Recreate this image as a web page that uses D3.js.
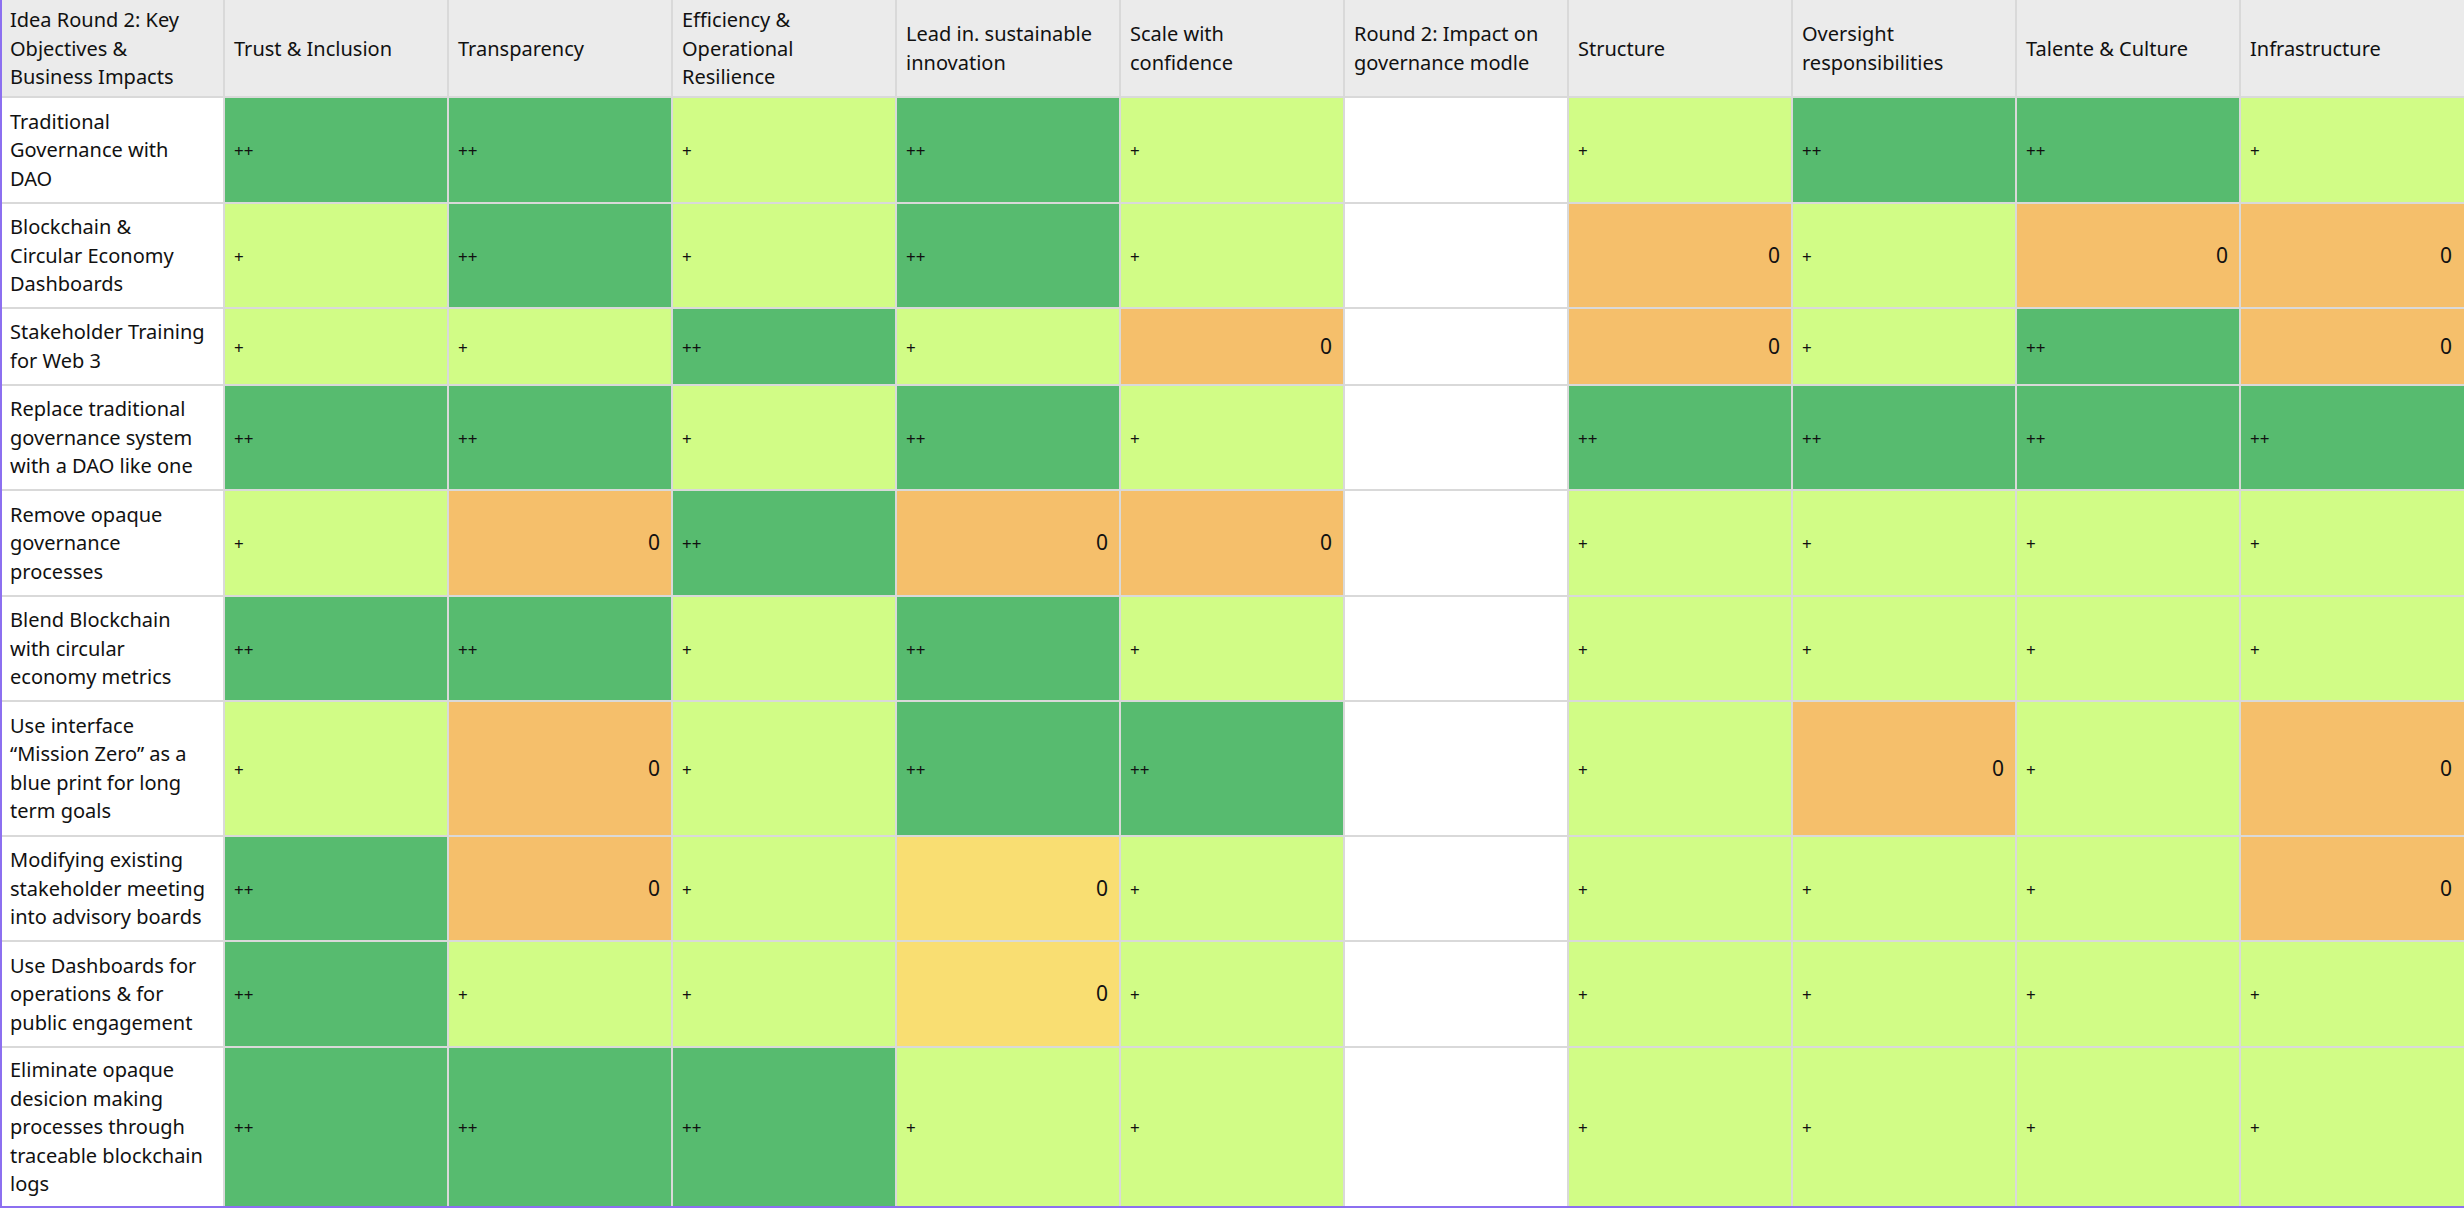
<!DOCTYPE html>
<meta charset="utf-8">
<script src="https://d3js.org/d3.v7.min.js"></script>
<style>body{margin:0;background:#fff}</style>
<div id="my_dataviz"></div>
<script>
    var headers = [
        ["Idea Round 2: Key", "Objectives &", "Business Impacts"],
        ["Trust & Inclusion"], ["Transparency"], ["Efficiency &", "Operational", "Resilience"],
        ["Lead in. sustainable", "innovation"], ["Scale with", "confidence"],
        ["Round 2: Impact on", "governance modle"], ["Structure"], ["Oversight", "responsibilities"],
        ["Talente & Culture"], ["Infrastructure"]
    ];
    var ideas = [
        ["Traditional", "Governance with", "DAO"],
        ["Blockchain &", "Circular Economy", "Dashboards"],
        ["Stakeholder Training", "for Web 3"],
        ["Replace traditional", "governance system", "with a DAO like one"],
        ["Remove opaque", "governance", "processes"],
        ["Blend Blockchain", "with circular", "economy metrics"],
        ["Use interface", "\u201cMission Zero\u201d as a", "blue print for long", "term goals"],
        ["Modifying existing", "stakeholder meeting", "into advisory boards"],
        ["Use Dashboards for", "operations & for", "public engagement"],
        ["Eliminate opaque", "desicion making", "processes through", "traceable blockchain", "logs"]
    ];
    // "" = blank column, "0y" = zero shown in yellow
    var ratings = [
        ["++", "++", "+", "++", "+", "", "+", "++", "++", "+"],
        ["+", "++", "+", "++", "+", "", "0", "+", "0", "0"],
        ["+", "+", "++", "+", "0", "", "0", "+", "++", "0"],
        ["++", "++", "+", "++", "+", "", "++", "++", "++", "++"],
        ["+", "0", "++", "0", "0", "", "+", "+", "+", "+"],
        ["++", "++", "+", "++", "+", "", "+", "+", "+", "+"],
        ["+", "0", "+", "++", "++", "", "+", "0", "+", "0"],
        ["++", "0", "+", "0y", "+", "", "+", "+", "+", "0"],
        ["++", "+", "+", "0y", "+", "", "+", "+", "+", "+"],
        ["++", "++", "++", "+", "+", "", "+", "+", "+", "+"]
    ];
    var rowHeights = [97, 106, 105, 77, 105, 106, 105, 135, 105, 106, 160];

    var width = 2464, height = 1208;
    var colors = {"++": "#57bb6f", "+": "#d1fc86", "0": "#f5bf6b", "0y": "#f9de72", "": "#ffffff"};

    var svg = d3.select("#my_dataviz").append("svg")
        .attr("width", width).attr("height", height)
        .style("font-family", "'Noto Sans', sans-serif");

    var x = d3.scaleBand().domain(d3.range(headers.length)).range([0, width]);
    var tops = [0];
    rowHeights.forEach(function(h, i) { tops.push(tops[i] + h); });
    var y = function(i) { return tops[i]; };

    // header
    svg.selectAll(".hd").data(headers).enter().append("rect")
        .attr("x", function(d, i) { return x(i); }).attr("y", 0)
        .attr("width", x.bandwidth()).attr("height", rowHeights[0])
        .attr("fill", "#ebebeb");

    // first column
    svg.selectAll(".ic").data(ideas).enter().append("rect")
        .attr("x", 0).attr("y", function(d, i) { return y(i + 1); })
        .attr("width", x.bandwidth()).attr("height", function(d, i) { return rowHeights[i + 1]; })
        .attr("fill", "#ffffff");

    // cells
    var cells = [];
    ratings.forEach(function(r, ri) { r.forEach(function(v, ci) { cells.push({r: ri, c: ci + 1, v: v}); }); });
    var g = svg.selectAll(".cell").data(cells).enter().append("g");
    g.append("rect")
        .attr("x", function(d) { return x(d.c); }).attr("y", function(d) { return y(d.r + 1); })
        .attr("width", x.bandwidth()).attr("height", function(d) { return rowHeights[d.r + 1]; })
        .attr("fill", function(d) { return colors[d.v]; });
    g.append("text")
        .attr("x", function(d) { return d.v[0] === "0" ? x(d.c) + x.bandwidth() - 12 : x(d.c) + 10; })
        .attr("y", function(d) { return y(d.r + 1) + rowHeights[d.r + 1] / 2 + 7; })
        .attr("text-anchor", function(d) { return d.v[0] === "0" ? "end" : "start"; })
        .style("font-size", function(d) { return d.v[0] === "0" ? "21px" : "17px"; })
        .attr("fill", "#111")
        .text(function(d) { return d.v === "0y" ? "0" : d.v; });

    function multi(sel, lines, x0, yc) {
        var lh = 28.5, n = lines.length;
        var t = sel.append("text").attr("fill", "#111").style("font-size", "20px");
        lines.forEach(function(l, k) {
            t.append("tspan").attr("x", x0).attr("y", yc - (n - 1) * lh / 2 + k * lh + 7).text(l);
        });
    }
    headers.forEach(function(h, i) { multi(svg, h, x(i) + 10, rowHeights[0] / 2); });
    ideas.forEach(function(h, i) { multi(svg, h, 10, y(i + 1) + rowHeights[i + 1] / 2); });

    // grid lines
    svg.selectAll(".vl").data(d3.range(1, headers.length)).enter().append("line")
        .attr("x1", function(d) { return x(d); }).attr("x2", function(d) { return x(d); })
        .attr("y1", 0).attr("y2", height).attr("stroke", "#d9d9d9").attr("stroke-width", 2);
    svg.selectAll(".hl").data(d3.range(1, tops.length - 1)).enter().append("line")
        .attr("x1", 0).attr("x2", width).attr("y1", function(d) { return y(d); }).attr("y2", function(d) { return y(d); })
        .attr("stroke", "#d9d9d9").attr("stroke-width", 2);

    // purple frame left & bottom
    svg.append("line").attr("x1", 1).attr("x2", 1).attr("y1", 0).attr("y2", height)
        .attr("stroke", "#8c6ff0").attr("stroke-width", 2);
    svg.append("line").attr("x1", 0).attr("x2", width).attr("y1", height - 1).attr("y2", height - 1)
        .attr("stroke", "#8c6ff0").attr("stroke-width", 2);
</script>
